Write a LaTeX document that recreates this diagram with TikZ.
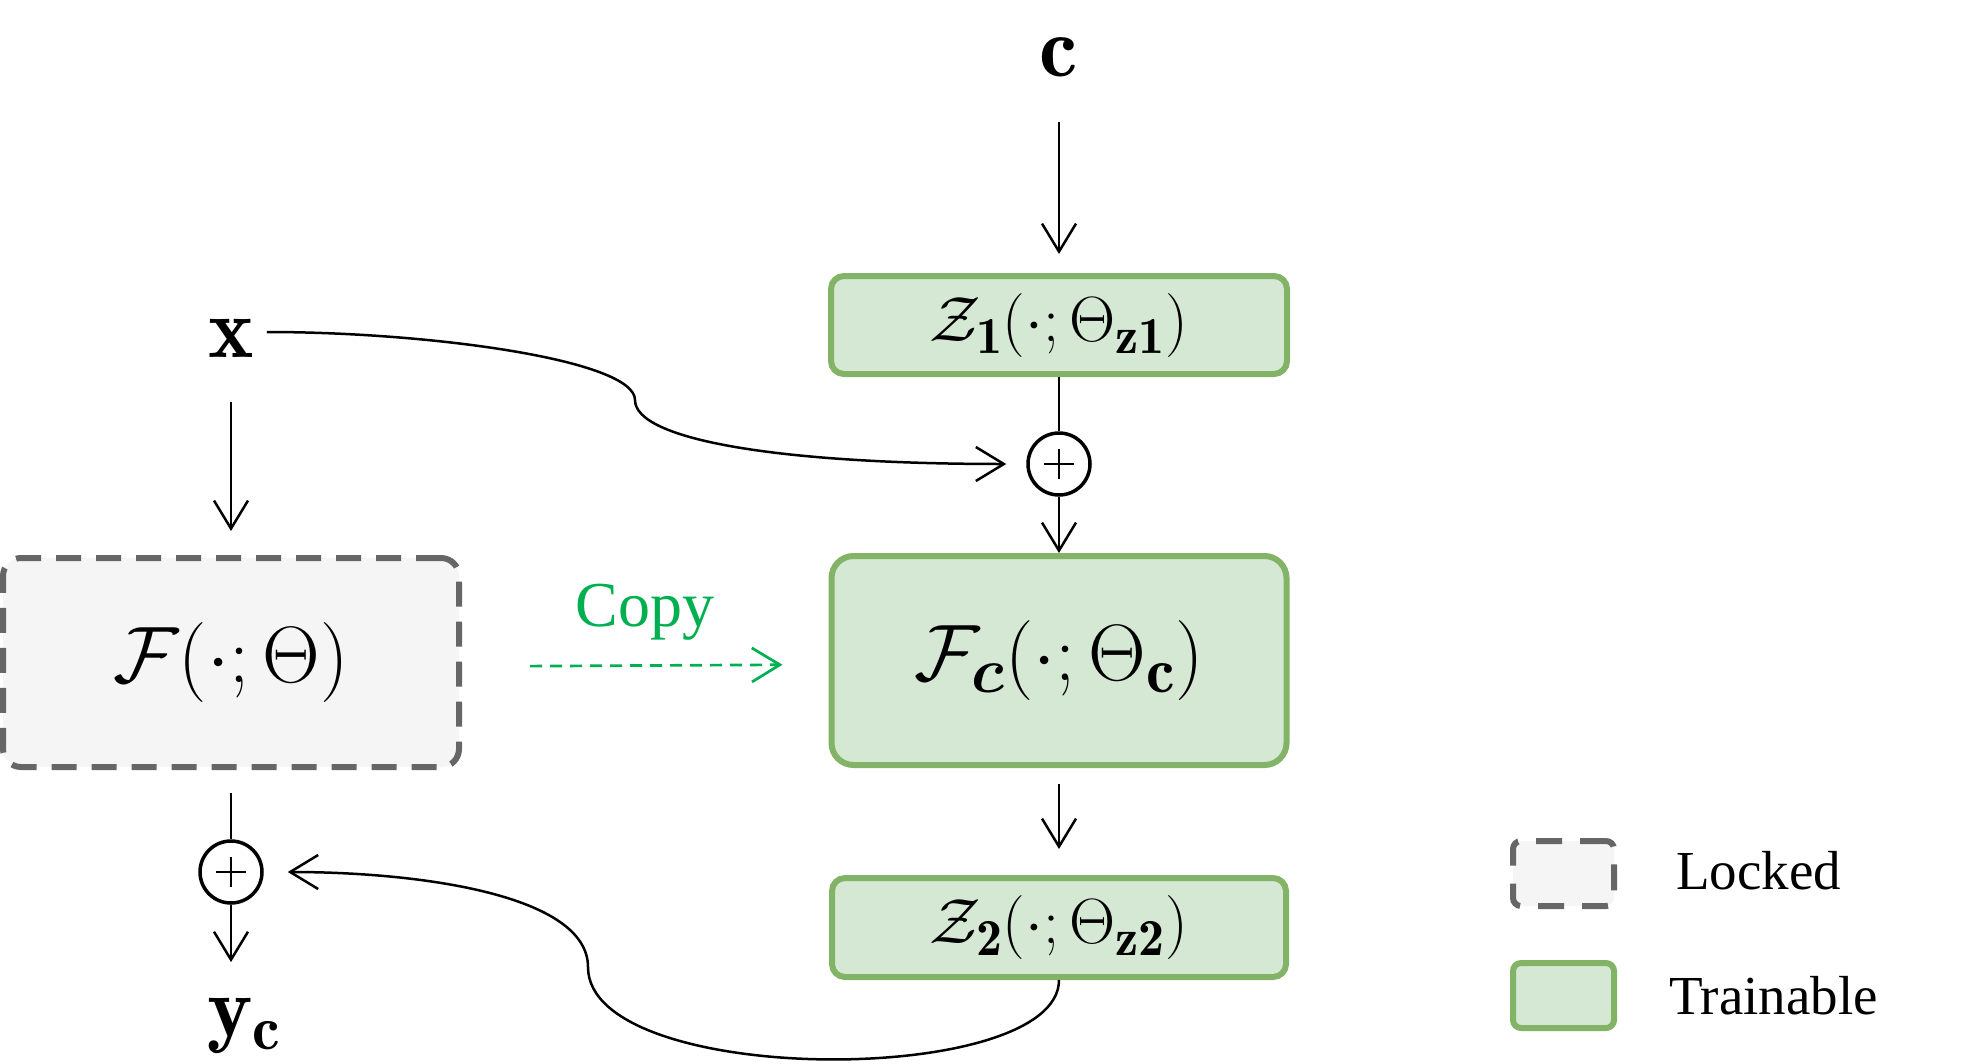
\RequirePackage{fix-cm}
\documentclass[tikz,border=0pt]{standalone}
\usepackage{amsmath}
\usepackage{fontspec}
\newfontfamily\tnr{Liberation Serif}
\usetikzlibrary{arrows.meta}
\DeclareMathSizes{64}{64}{52}{40}
\DeclareMathSizes{80}{80}{64}{50}
\DeclareMathSizes{86}{86}{62}{48}
\definecolor{tfill}{HTML}{D5E8D4}
\definecolor{tdraw}{HTML}{82B366}
\definecolor{lfill}{HTML}{F5F5F5}
\definecolor{ldraw}{HTML}{666666}
\definecolor{copyg}{HTML}{00B050}
\begin{document}
\begin{tikzpicture}[x=1pt,y=-1pt,
 trainbox/.style={draw=tdraw, fill=tfill, line width=6pt, rounded corners=13pt, inner sep=0pt},
 lockbox/.style={draw=ldraw, fill=lfill, line width=6pt, rounded corners=18pt, dash pattern=on 25pt off 15pt, inner sep=0pt},
 arr/.style={line width=2.5pt, -{Straight Barb[length=28pt,width=34pt,line width=2.5pt]}},
 conn/.style={line width=2.5pt},
 sumnode/.style={circle, draw, line width=3.5pt, minimum size=62pt, inner sep=0pt,
   path picture={\draw[line width=2.5pt] ([xshift=-15pt]path picture bounding box.center) -- ([xshift=15pt]path picture bounding box.center) ([yshift=-15pt]path picture bounding box.center) -- ([yshift=15pt]path picture bounding box.center);}},
 txt/.style={inner sep=0pt}
 ]
\useasboundingbox (0,0) rectangle (1973,1063);

% boxes
\node[trainbox, minimum width=456pt, minimum height=98pt] (Z1) at (1059,325)
  {\fontsize{64}{70}\selectfont $\mathcal{Z}_{\mathbf{1}}(\cdot;\Theta_{\mathbf{z1}})$};
\node[lockbox, minimum width=456pt, minimum height=209pt] (F) at (231,662.5)
  {\fontsize{80}{86}\selectfont $\mathcal{F}(\cdot;\Theta)$};
\node[trainbox, rounded corners=22pt, minimum width=455pt, minimum height=209pt] (Fc) at (1059,660.5)
  {\fontsize{80}{86}\selectfont $\mathcal{F}_{\boldsymbol{c}}(\cdot;\Theta_{\mathbf{c}})$};
\node[trainbox, minimum width=454pt, minimum height=99pt] (Z2) at (1059,927.5)
  {\fontsize{64}{70}\selectfont $\mathcal{Z}_{\mathbf{2}}(\cdot;\Theta_{\mathbf{z2}})$};

% sums
\node[sumnode] (s1) at (1059,464) {};
\node[sumnode] (s2) at (231,872) {};

% io labels
\node[txt] (c) at (1059,57) {\fontsize{86}{90}\selectfont $\mathbf{c}$};
\node[txt] (x) at (231,338) {\fontsize{86}{90}\selectfont $\mathbf{x}$};
\node[txt] (yc) at (244,1026) {\fontsize{86}{90}\selectfont $\mathbf{y}_{\mathbf{c}}$};

% copy label
\node[txt, anchor=base, text=copyg] (copy) at (645,626) {\fontsize{64}{70}\tnr Copy};

% legend
\node[lockbox, rounded corners=8pt, dash pattern=on 26pt off 18pt, minimum width=101pt, minimum height=65pt] (lk) at (1563.5,873.5) {};
\node[trainbox, rounded corners=8pt, minimum width=101pt, minimum height=65pt] (tr) at (1563.5,995.5) {};
\node[txt, anchor=base west] (lkt) at (1676,889) {\fontsize{55}{60}\tnr Locked};
\node[txt, anchor=base west] (trt) at (1669,1014) {\fontsize{55}{60}\tnr Trainable};

% connectors
\draw[arr, shorten <=45pt, shorten >=19pt] (c) -- (Z1);
\draw[conn] (Z1) -- (s1);
\draw[arr] (s1) -- (Fc);
\draw[arr, shorten <=16pt, shorten >=26pt] (Fc) -- (Z2);
\draw[arr, shorten <=45pt, shorten >=24pt] (x) -- (F);
\draw[conn, shorten <=23pt] (F) -- (s2);
\draw[arr, shorten >=36pt] (s2) -- (s2 |- yc.north);

\draw[arr, shorten >=20pt] ([xshift=13pt,yshift=6pt]x.east) .. controls (430,332) and (635,360) .. (635,400)
   .. controls (635,440) and (780,464) .. (s1.west);
\draw[arr, shorten >=24pt] (Z2.south) .. controls (1059,1088) and (588,1088) .. (588,967)
   .. controls (588,895) and (420,872) .. (s2.east);

\draw[copyg, line width=2.7pt, dash pattern=on 12pt off 8pt,
  -{Straight Barb[length=28pt,width=34pt,line width=2.7pt]},
  shorten <=68pt, shorten >=46pt] ([yshift=-4pt]F.east) -- ([yshift=-4pt]Fc.west);
\end{tikzpicture}
\end{document}
